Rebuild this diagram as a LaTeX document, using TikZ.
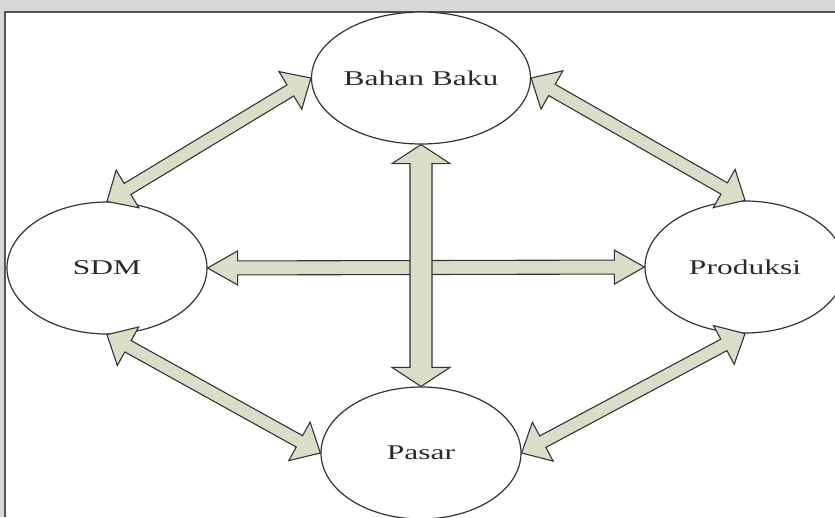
\documentclass[tikz,border=0pt]{standalone}
\usepackage{fontspec}
\setmainfont{Liberation Serif}
\usetikzlibrary{shapes.geometric,calc}
\definecolor{arrowfill}{HTML}{DCDDC9}
\definecolor{edgecol}{HTML}{333333}
\definecolor{labelcol}{HTML}{2A2A2A}
\definecolor{bggray}{HTML}{D8D8D8}
\definecolor{framecol}{HTML}{555555}
% #1 from, #2 to, #3 shaft half width, #4 head length, #5 head half width
\newcommand\blockarrow[5]{%
  \coordinate (ba1) at ($(#1)!#4!(#2)$);
  \coordinate (ba2) at ($(#2)!#4!(#1)$);
  \draw[blockarr] (#1)
    -- ($(ba1)!#5!90:(#2)$) -- ($(ba1)!#3!90:(#2)$)
    -- ($(ba2)!#3!-90:(#1)$) -- ($(ba2)!#5!-90:(#1)$)
    -- (#2)
    -- ($(ba2)!#5!90:(#1)$) -- ($(ba2)!#3!90:(#1)$)
    -- ($(ba1)!#3!-90:(#2)$) -- ($(ba1)!#5!-90:(#2)$)
    -- cycle;
}
\begin{document}
\begin{tikzpicture}[x=1pt,y=-1pt,
  proc/.style={ellipse, draw=edgecol, line width=1.2pt, fill=white,
    minimum width=200pt, minimum height=132pt, inner sep=0pt,
    text=labelcol, font=\fontsize{21}{25}\selectfont},
  blockarr/.style={draw=edgecol, line width=1.1pt, fill=arrowfill, line join=miter}]
\useasboundingbox (0,0) rectangle (835,517);
\clip (0,0) rectangle (835,517);
\fill[bggray] (0,0) rectangle (835,517);
\fill[white] (5,12) rectangle (835,517);
\draw[line width=1.8pt, draw=framecol] (5,517) -- (5,12) -- (835,12);

\node[proc] (B) at (421,78) {\scalebox{1.5}[1]{Bahan Baku}};
\node[proc] (S) at (107,268) {\scalebox{1.5}[1]{SDM}};
\node[proc] (P) at (745,267) {\scalebox{1.5}[1]{Produksi}};
\node[proc] (Pa) at (421,453) {\scalebox{1.5}[1]{Pasar}};

\blockarrow{S.north}{B.west}{6.5pt}{24pt}{22pt}
\blockarrow{B.east}{P.north}{6.5pt}{24pt}{22pt}
\blockarrow{S.south}{Pa.west}{6.5pt}{24pt}{22pt}
\blockarrow{Pa.east}{P.south}{6.5pt}{24pt}{22pt}
\blockarrow{S.east}{P.west}{7pt}{30pt}{17pt}
\blockarrow{B.south}{Pa.north}{11pt}{19pt}{29pt}
\end{tikzpicture}
\end{document}
